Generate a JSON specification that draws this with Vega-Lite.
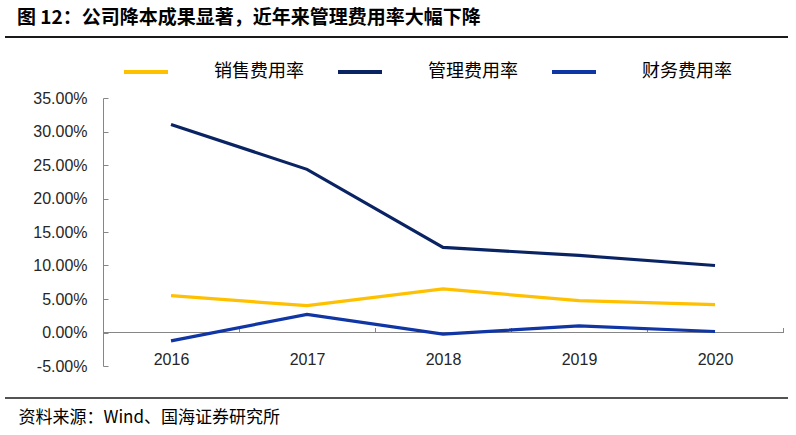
{
  "$schema": "https://vega.github.io/schema/vega-lite/v6.json",
  "autosize": "none",
  "padding": {"left": 5, "right": 8, "top": 98, "bottom": 69},
  "width": 783,
  "height": 268,
  "title": {
    "text": "图 12：公司降本成果显著，近年来管理费用率大幅下降",
    "anchor": "start",
    "frame": "bounds",
    "dx": 13,
    "offset": 8,
    "font": "Noto Sans CJK SC",
    "fontSize": 19,
    "fontWeight": "bold",
    "color": "#000000"
  },
  "config": {
    "font": "Noto Sans CJK SC",
    "view": {"stroke": null}
  },
  "resolve": {"axis": {"x": "independent", "y": "independent"}},
  "layer": [
    {
      "data": {"values": [{}]},
      "mark": {"type": "rule", "color": "#1a1a1a", "strokeWidth": 2},
      "encoding": {"y": {"datum": 0.4412, "type": "quantitative", "axis": null}}
    },
    {
      "data": {"values": [{}]},
      "mark": {"type": "rule", "color": "#1a1a1a", "strokeWidth": 1.5},
      "encoding": {"y": {"datum": -0.0978, "type": "quantitative", "axis": null}}
    },
    {
      "data": {"values": [{}]},
      "mark": {"type": "rule", "color": "#868686", "strokeWidth": 1},
      "encoding": {
        "x": {"datum": "2016", "type": "ordinal", "bandPosition": 0, "axis": null},
        "x2": {"datum": "2020", "bandPosition": 1},
        "y": {"datum": 0, "type": "quantitative", "axis": null}
      }
    },
    {
      "data": {
        "values": [
          {"year": "2016", "series": "销售费用率", "rate": 0.055},
          {"year": "2017", "series": "销售费用率", "rate": 0.040},
          {"year": "2018", "series": "销售费用率", "rate": 0.065},
          {"year": "2019", "series": "销售费用率", "rate": 0.0475},
          {"year": "2020", "series": "销售费用率", "rate": 0.0415},
          {"year": "2016", "series": "管理费用率", "rate": 0.3105},
          {"year": "2017", "series": "管理费用率", "rate": 0.2435},
          {"year": "2018", "series": "管理费用率", "rate": 0.127},
          {"year": "2019", "series": "管理费用率", "rate": 0.115},
          {"year": "2020", "series": "管理费用率", "rate": 0.100},
          {"year": "2016", "series": "财务费用率", "rate": -0.0125},
          {"year": "2017", "series": "财务费用率", "rate": 0.027},
          {"year": "2018", "series": "财务费用率", "rate": -0.0025},
          {"year": "2019", "series": "财务费用率", "rate": 0.010},
          {"year": "2020", "series": "财务费用率", "rate": 0.0015}
        ]
      },
      "mark": {"type": "line", "strokeWidth": 3.2},
      "encoding": {
        "x": {
          "field": "year",
          "type": "ordinal",
          "bandPosition": 0.5,
          "scale": {
            "type": "band",
            "domain": ["2016", "2017", "2018", "2019", "2020"],
            "paddingInner": 0,
            "paddingOuter": 0.3787,
            "align": 0.9515
          },
          "axis": {
            "title": "资料来源：Wind、国海证券研究所",
            "titleX": 13,
            "titleY": 77,
            "titleAlign": "left",
            "titleBaseline": "top",
            "titleFont": "Noto Sans CJK SC",
            "titleFontSize": 17,
            "titleFontWeight": "normal",
            "titleColor": "#000000",
            "labelAngle": 0,
            "offset": -33.5,
            "domain": false,
            "tickBand": "extent",
            "tickSize": -5,
            "labelPadding": 24,
            "tickColor": "#868686",
            "labelFont": "Liberation Sans",
            "labelFontSize": 16,
            "labelColor": "#262626"
          }
        },
        "y": {
          "field": "rate",
          "type": "quantitative",
          "scale": {"domain": [-0.05, 0.35], "nice": false, "zero": false},
          "axis": {
            "title": null,
            "offset": -98,
            "values": [-0.05, 0, 0.05, 0.1, 0.15, 0.2, 0.25, 0.3, 0.35],
            "labelExpr": "replace(format(datum.value, '.2%'), '\u2212', '-')",
            "labelOverlap": false,
            "grid": false,
            "tickSize": -5,
            "labelPadding": 21,
            "domainColor": "#868686",
            "tickColor": "#868686",
            "labelFont": "Liberation Sans",
            "labelFontSize": 16,
            "labelColor": "#262626"
          }
        },
        "color": {
          "field": "series",
          "type": "nominal",
          "scale": {
            "domain": ["销售费用率", "管理费用率", "财务费用率"],
            "range": ["#FFC000", "#0A2463", "#1035A4"]
          },
          "legend": {
            "title": null,
            "orient": "none",
            "legendX": 117,
            "legendY": -50,
            "direction": "horizontal",
            "padding": 0,
            "symbolType": "stroke",
            "symbolSize": 1936,
            "symbolStrokeWidth": 4,
            "labelFont": "Noto Sans CJK SC",
            "labelFontSize": 18,
            "labelOffset": 44,
            "columnPadding": 26,
            "labelColor": "#000000"
          }
        }
      }
    }
  ]
}
